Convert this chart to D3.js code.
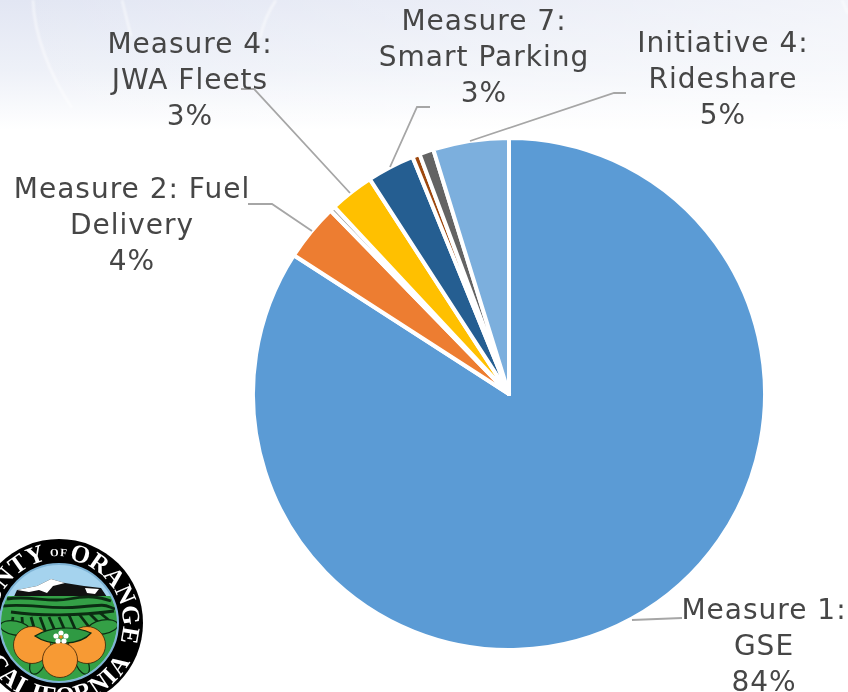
<!DOCTYPE html>
<html>
<head>
<meta charset="utf-8">
<script src="https://cdn.jsdelivr.net/npm/d3@7"></script>
<style>
  html, body { margin: 0; padding: 0; background: #fff; overflow: hidden; }
  svg { display: block; }
</style>
</head>
<body>
<div id="chart"></div>
<script>
// values, in percent, clockwise from 12 o'clock
const categories = ["Measure 1: GSE", "Measure 2: Fuel Delivery", "Measure 3", "Measure 4: JWA Fleets",
  "Measure 7: Smart Parking", "Measure 5", "Measure 6", "Initiative 4: Rideshare"];
const values = [84.12, 3.6, 0.33, 2.8, 3.0, 0.47, 0.9, 4.78];
const colors = ["#5B9BD5", "#ED7D31", "#A5A5A5", "#FFC000", "#255E91", "#9E480E", "#636363", "#7CAFDD"];

const labelLines = [
  ["Measure 1:", "GSE", "84%"],
  ["Measure 2: Fuel", "Delivery", "4%"],
  null,
  ["Measure 4:", "JWA Fleets", "3%"],
  ["Measure 7:", "Smart Parking", "3%"],
  null,
  null,
  ["Initiative 4:", "Rideshare", "5%"]
];
const labelPos = [[764, 619], [132, 198], null, [190, 53], [484, 30], null, null, [723, 52]];
const leaderPts = [
  [[632, 620], [682, 618]],
  [[312, 231], [272, 204], [248, 204]],
  null,
  [[350, 193], [254, 89], [241, 89]],
  [[390, 167], [417, 107], [430, 107]],
  null,
  null,
  [[470, 141], [614, 93], [626, 93]]
];

const width = 848, height = 692;
const cx = 509, cy = 394, radius = 256;

const svg = d3.select("#chart").append("svg")
  .attr("width", width)
  .attr("height", height);

// slide background
const defs = svg.append("defs");
const bg = defs.append("linearGradient").attr("id", "bg")
  .attr("x1", 0).attr("y1", 0).attr("x2", 0).attr("y2", 1);
bg.append("stop").attr("offset", "0%").attr("stop-color", "#e2e6f3");
bg.append("stop").attr("offset", "55%").attr("stop-color", "#eef1f8");
bg.append("stop").attr("offset", "100%").attr("stop-color", "#ffffff");
const fade = defs.append("linearGradient").attr("id", "fade")
  .attr("x1", 0).attr("y1", 0).attr("x2", 1).attr("y2", 0);
fade.append("stop").attr("offset", "0%").attr("stop-color", "#fff").attr("stop-opacity", 0);
fade.append("stop").attr("offset", "100%").attr("stop-color", "#fff").attr("stop-opacity", 0.55);
svg.append("rect").attr("width", width).attr("height", 130).attr("fill", "url(#bg)");
svg.append("rect").attr("width", width).attr("height", 130).attr("fill", "url(#fade)");

// faint swooshes in the background
defs.append("filter").attr("id", "soft").append("feGaussianBlur").attr("stdDeviation", 0.9);
const swooshes = ["M33,0 C34,35 50,75 72,108", "M122,0 C125,12 128,24 131,36", "M276,0 C268,12 263,24 260,38", "M842,0 L848,14"];
svg.append("g").attr("filter", "url(#soft)").selectAll("path").data(swooshes).join("path")
  .attr("d", d => d)
  .attr("fill", "none")
  .attr("stroke", "#ffffff")
  .attr("stroke-width", 2.5)
  .attr("opacity", 0.55);

// pie
const pie = d3.pie().sort(null).value(d => d);
const arc = d3.arc().innerRadius(0).outerRadius(radius);
svg.append("g")
  .attr("transform", `translate(${cx},${cy})`)
  .selectAll("path")
  .data(pie(values))
  .join("path")
  .attr("d", arc)
  .attr("fill", (d, i) => colors[i])
  .attr("stroke", "#fff")
  .attr("stroke-width", 4)
  .attr("stroke-linejoin", "round");

// leader lines
const line = d3.line();
svg.append("g").selectAll("path")
  .data(leaderPts.filter(d => d))
  .join("path")
  .attr("d", d => line(d))
  .attr("fill", "none")
  .attr("stroke", "#a6a6a6")
  .attr("stroke-width", 1.8);

// labels
const labelG = svg.append("g")
  .attr("font-family", "'DejaVu Sans', sans-serif")
  .attr("font-size", 28)
  .attr("letter-spacing", 1)
  .attr("fill", "#464646")
  .attr("text-anchor", "middle");
labelLines.forEach((lines, i) => {
  if (!lines) return;
  const t = labelG.append("text");
  lines.forEach((s, j) => {
    t.append("tspan")
      .attr("x", labelPos[i][0])
      .attr("y", labelPos[i][1] + j * 36)
      .text(s);
  });
});

// county seal, bottom left
const seal = svg.append("g").attr("transform", "translate(59,623)");
seal.append("circle").attr("r", 84).attr("fill", "#000");

// text on arcs; angles in degrees clockwise from the top
function arcPath(r, a0, a1, sweep) {
  const p = a => [r * Math.sin(a * Math.PI / 180), -r * Math.cos(a * Math.PI / 180)];
  const [x0, y0] = p(a0), [x1, y1] = p(a1);
  return `M${x0},${y0} A${r},${r} 0 0 ${sweep} ${x1},${y1}`;
}
const sealTexts = [
  { id: "sealCounty", d: arcPath(64, -110, -10, 1), text: "COUNTY", size: 25, spacing: 0 },
  { id: "sealOf", d: arcPath(67, -20, 20, 1), text: "OF", size: 11, spacing: 1 },
  { id: "sealOrange", d: arcPath(64, 8, 108, 1), text: "ORANGE", size: 25, spacing: 0 },
  { id: "sealCalifornia", d: arcPath(81, -120, -240, 0), text: "CALIFORNIA", size: 25, spacing: 1.5 }
];
sealTexts.forEach(s => {
  defs.append("path").attr("id", s.id).attr("d", s.d);
  seal.append("text")
    .attr("fill", "#fff")
    .attr("font-family", "'Liberation Serif', serif")
    .attr("font-weight", "bold")
    .attr("font-size", s.size)
    .attr("letter-spacing", s.spacing)
    .attr("text-anchor", "middle")
    .append("textPath")
    .attr("href", "#" + s.id)
    .attr("startOffset", "50%")
    .text(s.text);
});

seal.append("circle").attr("r", 59).attr("fill", "#a5d3ee").attr("stroke", "#7fb4d6").attr("stroke-width", 2);
defs.append("clipPath").attr("id", "sealClip").append("circle").attr("r", 58);
const scene = seal.append("g").attr("clip-path", "url(#sealClip)");
// mountain
scene.append("path").attr("d", "M-42,-33 L-22,-37 L-8,-44 L6,-40 L25,-37 L42,-35 L52,-20 L-48,-20 Z").attr("fill", "#111");
scene.append("path").attr("d", "M-42,-33 L-22,-37 L-8,-44 L6,-40 L-6,-37 L-12,-30 L-20,-33 L-30,-31 Z").attr("fill", "#fff");
scene.append("path").attr("d", "M26,-35 L40,-34 L36,-29 L28,-30 Z").attr("fill", "#fff");
// fields
scene.append("rect").attr("x", -60).attr("y", -27).attr("width", 120).attr("height", 90).attr("fill", "#34a046");
const furrows = ["M-52,-24 C-30,-28 -10,-20 10,-24 S40,-26 52,-22", "M-56,-17 C-30,-20 -10,-13 20,-16 S45,-18 56,-14",
  "M-48,-11 C-20,-7 20,-7 55,-12",
  "M-46,-6 L-48,8", "M-37,-6 L-36,8", "M-28,-6 L-24,8", "M-19,-6 L-13,10", "M-10,-6 L-3,10",
  "M0,-6 L7,10", "M10,-8 L17,8", "M20,-9 L30,4", "M30,-10 L42,2", "M40,-11 L52,-1"];
scene.append("g").selectAll("path").data(furrows).join("path")
  .attr("d", d => d).attr("stroke", "#0b2c12").attr("stroke-width", 2.8).attr("fill", "none");
// leaves and oranges
const leaves = [[-44, 5, 15, 7, 10], [44, 4, 15, 7, -10], [-21, 39, 7, 13, 25], [23, 40, 6, 12, -25]];
scene.append("g").selectAll("ellipse").data(leaves).join("ellipse")
  .attr("transform", d => `translate(${d[0]},${d[1]}) rotate(${d[4]})`)
  .attr("rx", d => d[2]).attr("ry", d => d[3])
  .attr("fill", "#34a046").attr("stroke", "#0b2c12").attr("stroke-width", 1.2);
const oranges = [[-27, 22, 18.5], [28, 22, 18.5], [1, 37, 17.5]];
const orangeOrder = [oranges[0], oranges[1]];
scene.append("g").selectAll("circle").data(orangeOrder).join("circle")
  .attr("cx", d => d[0]).attr("cy", d => d[1]).attr("r", d => d[2])
  .attr("fill", "#f79a34").attr("stroke", "#3a2208").attr("stroke-width", 0.8);
scene.append("path").attr("d", "M-24,13 C-10,4 14,2 32,10 C22,22 -8,24 -24,13 Z")
  .attr("fill", "#2f9a43").attr("stroke", "#0b2c12").attr("stroke-width", 1.2);
scene.append("circle").attr("cx", oranges[2][0]).attr("cy", oranges[2][1]).attr("r", oranges[2][2])
  .attr("fill", "#f79a34").attr("stroke", "#3a2208").attr("stroke-width", 0.8);
// blossom
const petals = [[2, 10], [-3, 13], [7, 13], [-1, 18], [5, 18]];
scene.append("g").selectAll("circle").data(petals).join("circle")
  .attr("cx", d => d[0]).attr("cy", d => d[1]).attr("r", 2.6).attr("fill", "#fff");
scene.append("circle").attr("cx", 2).attr("cy", 14).attr("r", 1.8).attr("fill", "#e8891c");
</script>
</body>
</html>
